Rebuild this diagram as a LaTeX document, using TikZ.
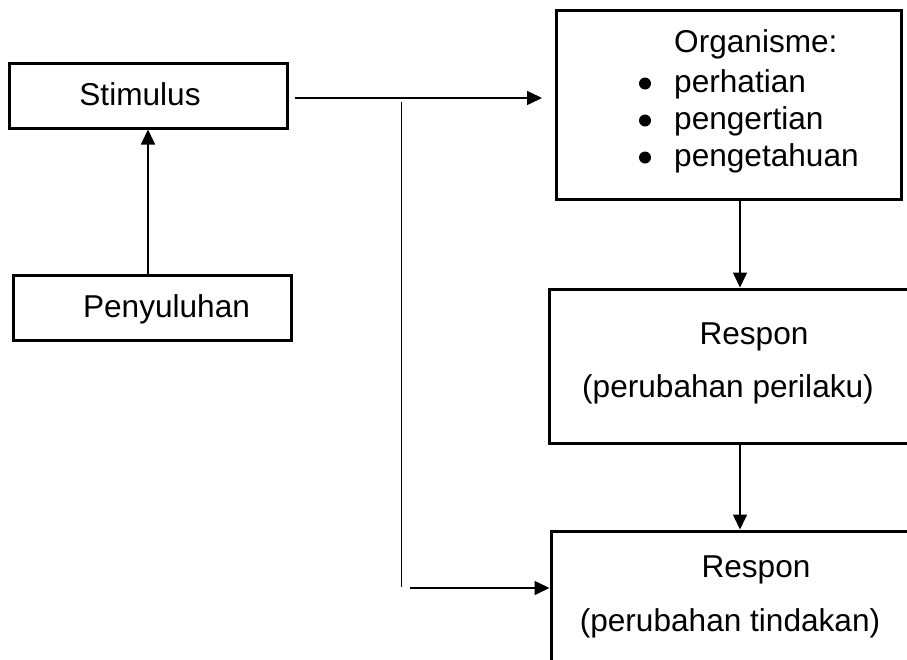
\documentclass[tikz,border=0pt]{standalone}
\usepackage{fontspec}
\setmainfont{Liberation Sans}
\usetikzlibrary{arrows.meta}
\begin{document}
\begin{tikzpicture}[x=1pt,y=-1pt,
  boxnode/.style={draw=black,line width=3pt,rectangle,inner sep=0pt},
  txt/.style={inner sep=0pt,font=\fontsize{31.6}{38}\selectfont,text=black},
  conn/.style={draw=black,line width=1.6pt,-{Triangle[length=15pt,width=14pt]}},
  thinline/.style={draw=black,line width=1.4pt},
  dotnode/.style={circle,fill=black,inner sep=0pt,minimum size=12pt}]
\useasboundingbox (0,0) rectangle (907,659);
\clip (0,0) rectangle (907,659);
% boxes
\node[boxnode,minimum width=278pt,minimum height=65pt] (stim) at (148,95.5) {};
\node[boxnode,minimum width=278pt,minimum height=65pt] (peny) at (152,307.5) {};
\node[boxnode,minimum width=345pt,minimum height=189pt] (org) at (728.5,104.5) {};
\node[boxnode,minimum width=366pt,minimum height=154pt] (resp1) at (732,366) {};
\node[boxnode,minimum width=364pt,minimum height=139pt] (resp2) at (733,600.5) {};
% texts
\node[txt,anchor=base] (stimtext) at (140,105) {Stimulus};
\node[txt,anchor=base] (penytext) at (166.5,317) {Penyuluhan};
\node[txt,anchor=base west] (orgtext) at (674,52) {Organisme:};
\node[txt,anchor=base west] (b1text) at (674,92) {perhatian};
\node[txt,anchor=base west] (b2text) at (674,129) {pengertian};
\node[txt,anchor=base west] (b3text) at (674,166) {pengetahuan};
\node[dotnode] (dot1) at (645,83.5) {};
\node[dotnode] (dot2) at (645,120.5) {};
\node[dotnode] (dot3) at (645,157.5) {};
\node[txt,anchor=base] (r1a) at (754,344) {Respon};
\node[txt,anchor=base] (r1b) at (728,397) {(perubahan perilaku)};
\node[txt,anchor=base] (r2a) at (756,577) {Respon};
\node[txt,anchor=base] (r2b) at (730,631) {(perubahan tindakan)};
% helper coordinates
\coordinate (sfrom) at (295,98);
\coordinate (oto) at (542,98);
\coordinate (vtop) at (401.5,102);
\coordinate (vbot) at (401.5,587);
\coordinate (hstart) at (410,588);
\coordinate (cx) at (740,0);
% connectors
\draw[conn] (stim.south |- peny.north) -- (stim.south);
\draw[conn] (sfrom) -- (oto);
\draw[thinline] (vtop) -- (vbot);
\draw[conn] (hstart) -- (resp2.west |- hstart);
\draw[conn] (org.south -| cx) -- (resp1.north -| cx);
\draw[conn] (resp1.south -| cx) -- (resp2.north -| cx);
\end{tikzpicture}
\end{document}
